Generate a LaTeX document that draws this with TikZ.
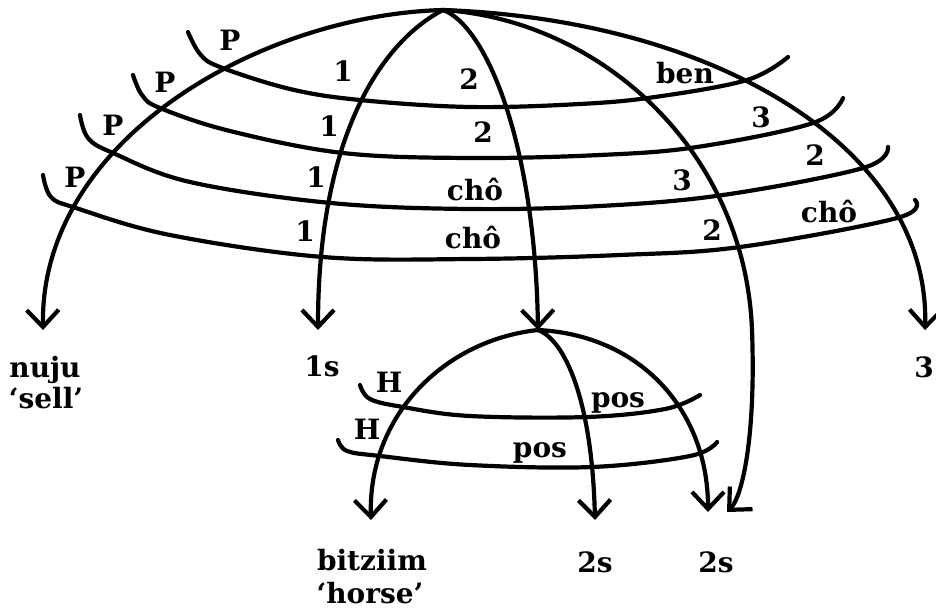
\documentclass[tikz,border=0pt]{standalone}
\usepackage{fontspec}
\setmainfont{DejaVu Serif}
\usetikzlibrary{arrows.meta}
\begin{document}
\begin{tikzpicture}[x=1pt,y=-1pt,
  band/.style={line width=4.2pt, line cap=round},
  conn/.style={line width=4.2pt, -{Straight Barb[length=17pt,width=32pt]}},
  lab/.style={inner sep=0pt, anchor=base, font=\fontsize{28}{30}\selectfont\bfseries},
  leaf/.style={inner sep=0pt, anchor=base, align=center, font=\fontsize{28}{30}\selectfont\bfseries},
]
\useasboundingbox (0,0) rectangle (936,611);

% apexes and arrow tips
\coordinate (top) at (443,10);
\coordinate (top2) at (538,330);
\coordinate (tnuju) at (43,330);
\coordinate (tone) at (318,330);
\coordinate (tthree) at (925,330);
\coordinate (thorse) at (371,520);
\coordinate (ttwoa) at (595,520);
\coordinate (ttwob) at (708,512);
\coordinate (ttwoc) at (727,512);

% leaf labels
\node[leaf] (nuju) at (45,377) {nuju};
\node[leaf] (sell) at (46,408) {`sell'};
\node[leaf] (ones) at (322,376) {1s};
\node[leaf] (three) at (924,377) {3};
\node[leaf] (bitziim) at (372,570) {bitziim};
\node[leaf] (horse) at (370,603) {`horse'};
\node[leaf] (twosa) at (595,572) {2s};
\node[leaf] (twosb) at (716,572) {2s};

% upper bands
\draw[band] plot[smooth, tension=0.6] coordinates {(188,32) (200,54) (220,67) (290,89) (360,100) (470,107) (580,104) (655,97) (747,80) (788,57)};
\draw[band] plot[smooth, tension=0.6] coordinates {(133,75) (142,95) (160,108) (230,131) (343,153) (470,158) (600,155) (697,147) (813,123) (843,98)};
\draw[band] plot[smooth, tension=0.6] coordinates {(80,115) (88,138) (113,153) (190,182) (331,203) (470,209) (600,206) (723,195) (863,168) (888,147)};
\draw[band] plot[smooth, tension=0.6] coordinates {(43,175) (51,197) (76,208) (170,235) (323,257) (470,259) (620,255) (740,247) (897,218) (915,200)};

% lower bands
\draw[band] plot[smooth, tension=0.6] coordinates {(360,385) (370,399) (403,407) (470,416) (587,417) (665,409) (700,395)};
\draw[band] plot[smooth, tension=0.6] coordinates {(338,440) (347,451) (380,456) (470,465) (592,467) (690,456) (717,442)};

% upper connectors
\draw[conn] (top) .. controls (260,15) and (40,140) .. (tnuju);
\draw[conn] (top) .. controls (385,40) and (318,130) .. (tone);
\draw[conn] (top) .. controls (485,25) and (535,140) .. (top2);
\draw[conn] (top) .. controls (600,20) and (745,150) .. (752,330) .. controls (756,438) and (742,497) .. (ttwoc);
\draw[conn] (top) .. controls (720,20) and (930,150) .. (tthree);

% lower connectors
\draw[conn] (top2) .. controls (445,340) and (368,415) .. (thorse);
\draw[conn] (top2) .. controls (565,340) and (592,400) .. (ttwoa);
\draw[conn] (top2) .. controls (640,335) and (708,410) .. (ttwob);

% band labels row 1
\node[lab] (p1) at (230,50) {P};
\node[lab] (o1) at (343,81) {1};
\node[lab] (w1) at (469,89) {2};
\node[lab] (ben) at (685,83) {ben};
% row 2
\node[lab] (p2) at (165,92) {P};
\node[lab] (o2) at (329,136) {1};
\node[lab] (w2) at (483,142) {2};
\node[lab] (h2) at (761,127) {3};
% row 3
\node[lab] (p3) at (113,135) {P};
\node[lab] (o3) at (316,187) {1};
\node[lab] (c3) at (475,200) {chô};
\node[lab] (h3) at (682,190) {3};
\node[lab] (w3) at (815,165) {2};
% row 4
\node[lab] (p4) at (75,187) {P};
\node[lab] (o4) at (305,241) {1};
\node[lab] (c4) at (473,248) {chô};
\node[lab] (w4) at (712,240) {2};
\node[lab] (c4b) at (829,222) {chô};
% lower labels
\node[lab] (ha) at (389,392) {H};
\node[lab] (hb) at (367,439) {H};
\node[lab] (posa) at (618,407) {pos};
\node[lab] (posb) at (540,457) {pos};
\end{tikzpicture}
\end{document}
